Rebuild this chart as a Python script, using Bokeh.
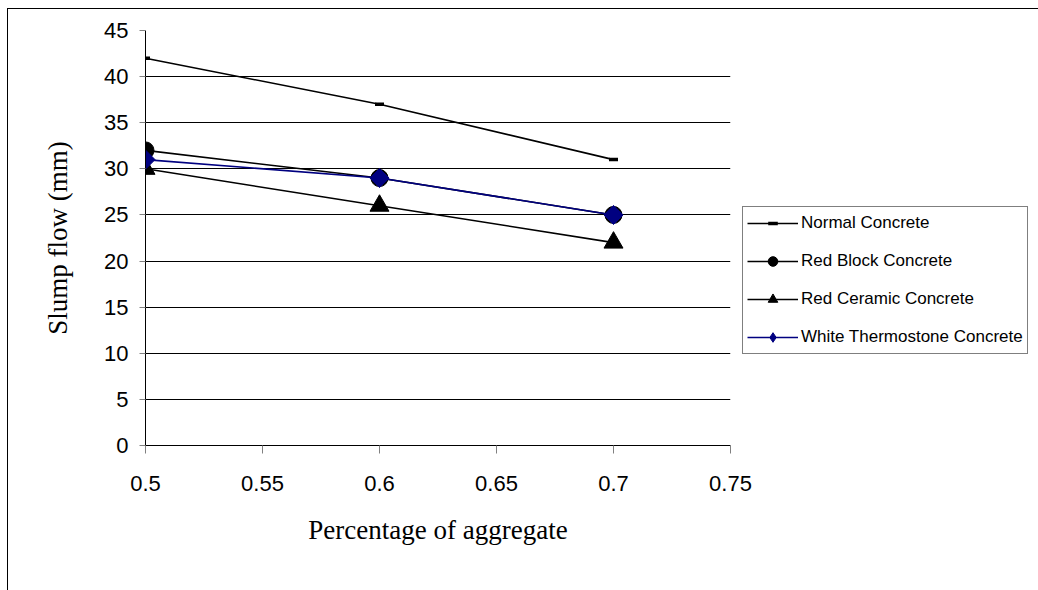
from bokeh.plotting import figure
from bokeh.models import Legend, LegendItem, FixedTicker, CustomJSTickFormatter, Range1d
from bokeh.embed import file_html
from bokeh.resources import INLINE
import math

x_vals = [0.5, 0.6, 0.7]
normal = [42, 37, 31]
red_block = [32, 29, 25]
red_ceramic = [30, 26, 22]
white_thermo = [31, 29, 25]
x_ticks = [0.5, 0.55, 0.6, 0.65, 0.7, 0.75]
y_ticks = [0, 5, 10, 15, 20, 25, 30, 35, 40, 45]

p = figure(output_backend="svg", toolbar_location=None,
           x_range=Range1d(0.5, 0.75), y_range=Range1d(0, 45),
           frame_width=585, frame_height=415,
           min_border_left=137, min_border_top=21, min_border_right=10, min_border_bottom=146,
           background_fill_color="white", border_fill_color="white")
p.styles = {"margin-left": "7px", "margin-top": "8px",
            "border-left": "1px solid black", "border-top": "1px solid black"}
p.outline_line_color = None

p.xaxis.ticker = FixedTicker(ticks=x_ticks)
p.yaxis.ticker = FixedTicker(ticks=y_ticks)
p.xaxis.formatter = CustomJSTickFormatter(code="return String(Number(tick.toFixed(2)))")
p.xgrid.grid_line_color = None
p.ygrid.ticker = FixedTicker(ticks=y_ticks)
p.ygrid.grid_line_color = "black"
p.ygrid.grid_line_width = 1

for ax in (p.xaxis, p.yaxis):
    ax.axis_line_color = "black"
    ax.major_tick_line_color = "#808080"
    ax.minor_tick_line_color = None
    ax.major_tick_in = 0
    ax.major_label_text_font = "Liberation Sans"
    ax.major_label_text_font_size = "22px"
    ax.major_label_text_color = "black"
    ax.axis_label_text_font = "Liberation Serif"
    ax.axis_label_text_font_size = "27px"
    ax.axis_label_text_font_style = "normal"
    ax.axis_label_text_color = "black"
p.xaxis.major_tick_out = 8
p.yaxis.major_tick_out = 6
p.xaxis.major_label_standoff = 22
p.yaxis.major_label_standoff = 11
p.xaxis.axis_label = "Percentage of aggregate"
p.yaxis.axis_label = "Slump flow (mm)"
p.xaxis.axis_label_standoff = 21
p.yaxis.axis_label_standoff = 28

lw = 1.6
l1 = p.line(x_vals, normal, line_color="black", line_width=lw)
m1 = p.scatter(x_vals, normal, marker="dash", size=9, line_color="black", line_width=3.5)
l2 = p.line(x_vals, red_block, line_color="black", line_width=lw)
m2 = p.scatter(x_vals, red_block, marker="circle", size=17, fill_color="black", line_color="black")
l3 = p.line(x_vals, red_ceramic, line_color="black", line_width=lw)
m3 = p.scatter(x_vals, red_ceramic, marker="triangle", size=19, fill_color="black", line_color="black")
l4 = p.line(x_vals, white_thermo, line_color="#000080", line_width=lw)
m4 = p.scatter(x_vals, white_thermo, marker="square", angle=math.pi / 4, size=13.5,
               fill_color="#000080", line_color="#000080")
# legend-only proxy glyph (a single off-canvas NaN point) so the legend shows a diamond shape
m4_leg = p.scatter(x=[float("nan")], y=[float("nan")], marker="diamond", size=14,
                   fill_color="#000080", line_color="#000080")

legend = Legend(items=[
    LegendItem(label="Normal Concrete", renderers=[l1, m1]),
    LegendItem(label="Red Block Concrete", renderers=[l2, m2]),
    LegendItem(label="Red Ceramic Concrete", renderers=[l3, m3]),
    LegendItem(label="White Thermostone Concrete", renderers=[l4, m4_leg]),
], location=(12, 91))
legend.label_text_font = "Liberation Sans"
legend.label_text_font_size = "17px"
legend.label_text_color = "black"
legend.glyph_width = 51
legend.glyph_height = 24
legend.label_height = 24
legend.spacing = 14
legend.padding = 4
legend.margin = 0
legend.label_standoff = 3
legend.border_line_color = "black"
legend.border_line_width = 1
legend.background_fill_color = "white"
legend.background_fill_alpha = 1
p.add_layout(legend, "right")

open("out.html", "w").write(file_html(p, INLINE))
